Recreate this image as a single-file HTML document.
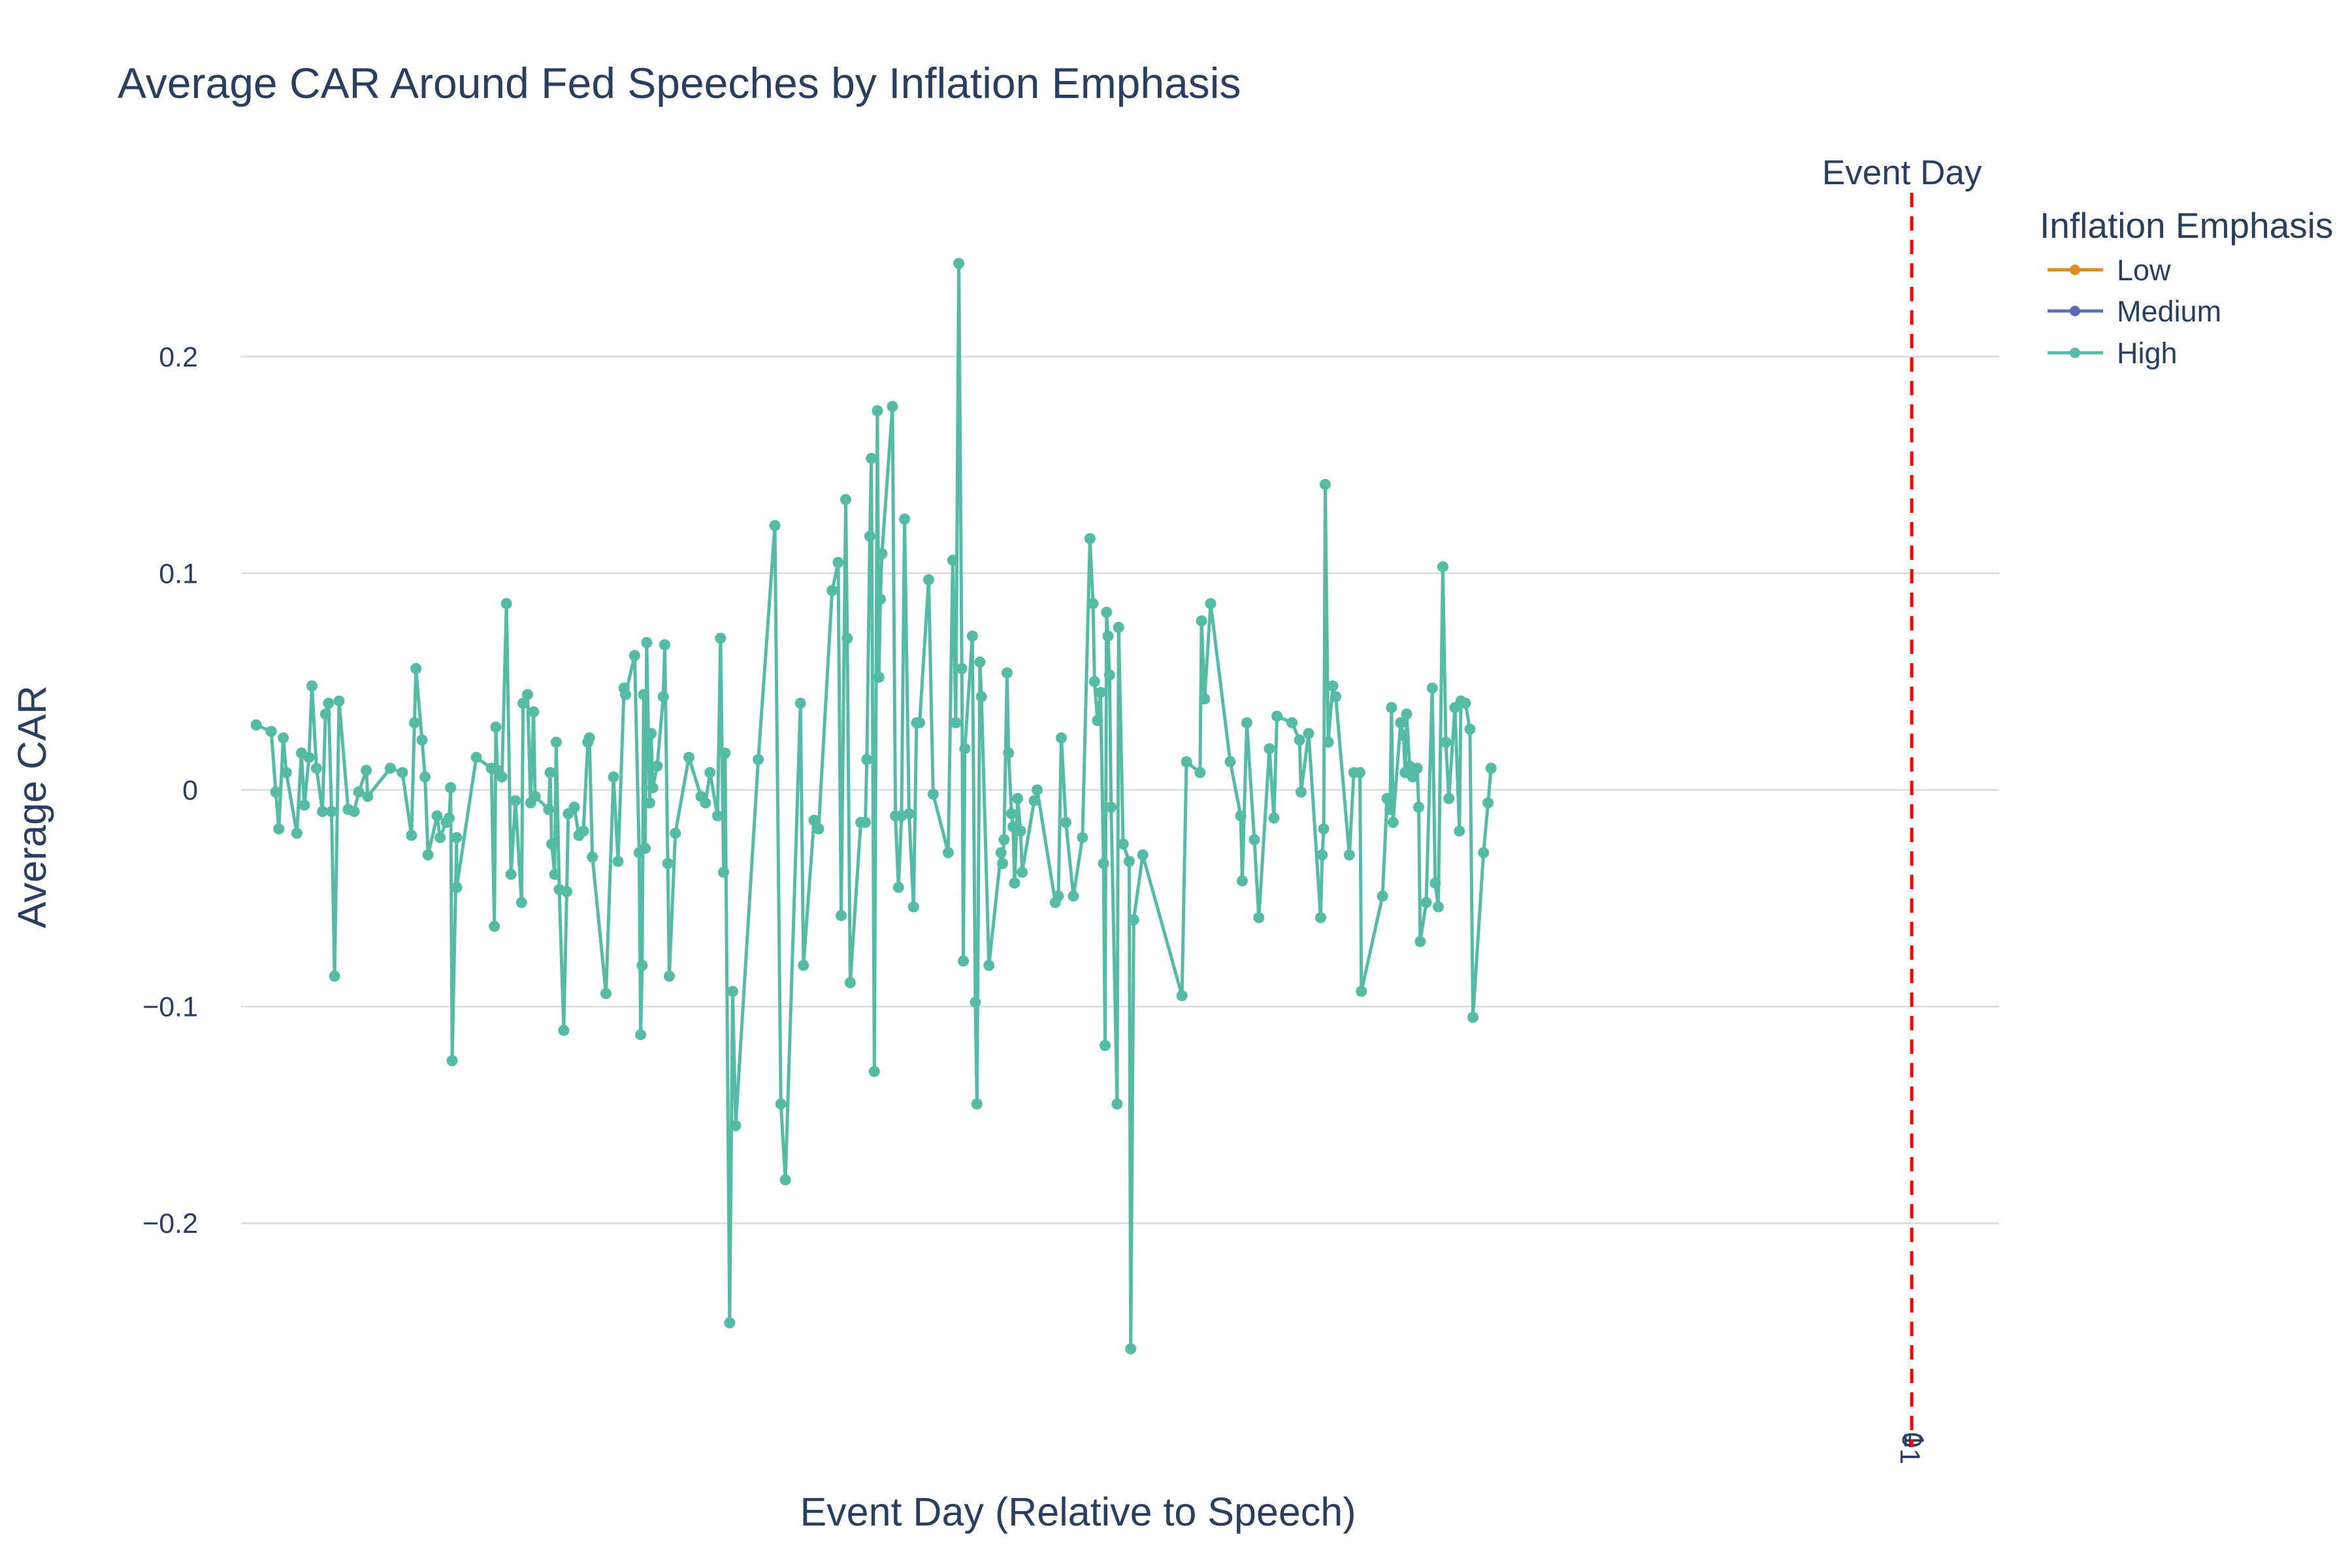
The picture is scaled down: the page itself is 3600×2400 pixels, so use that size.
<!DOCTYPE html>
<html><head><meta charset="utf-8"><style>
html,body{margin:0;padding:0;background:#fff;}
svg{display:block;font-family:"Liberation Sans",sans-serif;}
</style></head><body>
<svg id="chart" width="3600" height="2400" viewBox="0 0 3600 2400">
<rect width="3600" height="2400" fill="#fff"/>
<text x="180" y="150" font-size="66" fill="#2a3f5f">Average CAR Around Fed Speeches by Inflation Emphasis</text>
<g id="grid"></g>
<g id="yticks"></g>
<g id="xticks"></g>
<g id="series"></g>
<text x="1650" y="2335" font-size="61" fill="#2a3f5f" text-anchor="middle">Event Day (Relative to Speech)</text>
<text transform="translate(70,1235) rotate(-90)" font-size="61" fill="#2a3f5f" text-anchor="middle">Average CAR</text>
<text id="evlabel" y="282" font-size="53" fill="#2a3f5f" text-anchor="middle">Event Day</text>
<g>
<text x="3122" y="364" font-size="55" fill="#2a3f5f">Inflation Emphasis</text>
<g><line x1="3134" y1="413" x2="3219" y2="413" stroke="#e08a1e" stroke-width="5"/><circle cx="3176" cy="413" r="8" fill="#e08a1e"/><text x="3240" y="429" font-size="45" fill="#2a3f5f">Low</text></g>
<g><line x1="3134" y1="476" x2="3219" y2="476" stroke="#5b6bb5" stroke-width="5"/><circle cx="3176" cy="476" r="8" fill="#5b6bb5"/><text x="3240" y="492" font-size="45" fill="#2a3f5f">Medium</text></g>
<g><line x1="3134" y1="540" x2="3219" y2="540" stroke="#54bca4" stroke-width="5"/><circle cx="3176" cy="540" r="8" fill="#54bca4"/><text x="3240" y="556" font-size="45" fill="#2a3f5f">High</text></g>
</g>
</svg>
<script>
const yTickVals=[-0.2,-0.1,0,0.1,0.2];
const yTickLabels=["\u22120.2","\u22120.1","0","0.1","0.2"];
const xTickVals=[-0.1,0,0.1];
const xTickLabels=["\u22121","0","1"];
const eventDay=0;
const lowX=[];const lowY=[];
const medX=[];const medY=[];
const highX=[
-109.8,-108.8,-108.5,-108.3,-108.0,-107.8,-107.1,-106.8,-106.6,-106.3,
-106.1,-105.8,-105.4,-105.2,-105.0,-104.8,-104.6,-104.3,-103.7,-103.3,
-103.0,-102.5,-102.4,-100.9,-100.1,-99.5,-99.3,-99.2,-98.8,-98.6,
-98.4,-97.8,-97.6,-97.2,-97.0,-96.9,-96.8,-96.5,-96.5,-95.2,
-94.2,-94.0,-93.9,-93.8,-93.5,-93.2,-92.9,-92.6,-92.2,-92.1,
-91.8,-91.6,-91.4,-91.3,-90.4,-90.3,-90.2,-90.0,-89.9,-89.7,
-89.4,-89.2,-89.1,-88.7,-88.4,-88.1,-87.8,-87.7,-87.5,-86.6,
-86.1,-85.8,-85.4,-85.3,-84.7,-84.4,-84.3,-84.2,-84.1,-84.0,
-83.9,-83.7,-83.6,-83.5,-83.2,-82.8,-82.7,-82.5,-82.4,-82.0,
-81.1,-80.3,-80.0,-79.7,-79.2,-79.0,-78.8,-78.7,-78.4,-78.2,
-78.0,-76.5,-75.4,-75.0,-74.7,-73.7,-73.5,-72.8,-72.5,-71.6,
-71.2,-71.0,-70.7,-70.6,-70.4,-69.7,-69.4,-69.3,-69.1,-69.0,
-68.8,-68.6,-68.5,-68.4,-68.3,-67.6,-67.4,-67.2,-67.0,-66.8,
-66.5,-66.2,-66.0,-65.8,-65.2,-64.9,-63.9,-63.6,-63.4,-63.2,
-63.0,-62.9,-62.8,-62.3,-62.1,-62.0,-61.8,-61.7,-61.2,-60.4,
-60.3,-60.2,-60.0,-59.9,-59.7,-59.6,-59.5,-59.3,-59.1,-59.0,
-58.2,-58.0,-56.8,-56.6,-56.4,-56.1,-55.6,-55.0,-54.5,-54.3,
-54.2,-54.0,-53.8,-53.6,-53.5,-53.4,-53.3,-53.2,-53.1,-52.7,
-52.6,-52.3,-51.9,-51.8,-51.6,-51.0,-48.4,-48.1,-47.2,-47.1,
-46.9,-46.5,-45.2,-44.5,-44.4,-44.1,-43.6,-43.3,-42.6,-42.3,
-42.1,-41.1,-40.6,-40.5,-40.0,-39.2,-39.1,-39.0,-38.9,-38.7,
-38.4,-38.2,-37.3,-37.0,-36.6,-36.5,-35.1,-34.8,-34.6,-34.5,
-34.4,-33.9,-33.7,-33.6,-33.5,-33.3,-33.1,-32.8,-32.7,-32.6,
-32.2,-31.8,-31.6,-31.4,-31.1,-30.9,-30.7,-30.3,-30.0,-29.9,
-29.6,-29.3,-29.1,-28.4,-28.1,-27.9];
const highY=[
0.030,0.027,-0.001,-0.018,0.024,0.008,-0.020,0.017,-0.007,0.015,
0.048,0.010,-0.010,0.035,0.040,-0.010,-0.086,0.041,-0.009,-0.010,
-0.001,0.009,-0.003,0.010,0.008,-0.021,0.031,0.056,0.023,0.006,
-0.030,-0.012,-0.022,-0.015,-0.013,0.001,-0.125,-0.022,-0.045,0.015,
0.010,-0.063,0.029,0.009,0.006,0.086,-0.039,-0.005,-0.052,0.040,
0.044,-0.006,0.036,-0.003,-0.009,0.008,-0.025,-0.039,0.022,-0.046,
-0.111,-0.047,-0.011,-0.008,-0.021,-0.019,0.022,0.024,-0.031,-0.094,
0.006,-0.033,0.047,0.044,0.062,-0.029,-0.113,-0.081,0.044,-0.027,
0.068,-0.006,0.026,0.001,0.011,0.043,0.067,-0.034,-0.086,-0.020,
0.015,-0.003,-0.006,0.008,-0.012,0.070,-0.038,0.017,-0.246,-0.093,
-0.155,0.014,0.122,-0.145,-0.180,0.040,-0.081,-0.014,-0.018,0.092,
0.105,-0.058,0.134,0.070,-0.089,-0.015,-0.015,0.014,0.117,0.153,
-0.130,0.175,0.052,0.088,0.109,0.177,-0.012,-0.045,-0.012,0.125,
-0.011,-0.054,0.031,0.031,0.097,-0.002,-0.029,0.106,0.031,0.243,
0.056,-0.079,0.019,0.071,-0.098,-0.145,0.059,0.043,-0.081,-0.029,
-0.034,-0.023,0.054,0.017,-0.011,-0.017,-0.043,-0.004,-0.019,-0.038,
-0.005,0.000,-0.052,-0.049,0.024,-0.015,-0.049,-0.022,0.116,0.086,
0.050,0.032,0.045,-0.034,-0.118,0.082,0.071,0.053,-0.008,-0.145,
0.075,-0.025,-0.033,-0.258,-0.060,-0.030,-0.095,0.013,0.008,0.078,
0.042,0.086,0.013,-0.012,-0.042,0.031,-0.023,-0.059,0.019,-0.013,
0.034,0.031,0.023,-0.001,0.026,-0.059,-0.030,-0.018,0.141,0.022,
0.048,0.043,-0.030,0.008,0.008,-0.093,-0.049,-0.004,-0.009,0.038,
-0.015,0.031,0.025,0.008,0.035,0.011,0.006,0.010,-0.008,-0.070,
-0.052,0.047,-0.043,-0.054,0.103,0.022,-0.004,0.038,-0.019,0.041,
0.040,0.028,-0.105,-0.029,-0.006,0.010];

const NS="http://www.w3.org/2000/svg";
const PL=369,PR=3060,PT=277,PB=2200;
const xMin=-110.8,xMax=5.8;
function xS(v){return PL+(v-xMin)/(xMax-xMin)*(PR-PL);}
function yS(v){return 1209-v*3316;}
function mk(tag,attrs,parent){const e=document.createElementNS(NS,tag);for(const k in attrs)e.setAttribute(k,attrs[k]);parent.appendChild(e);return e;}

const grid=document.getElementById('grid'),yt=document.getElementById('yticks'),xt=document.getElementById('xticks'),ser=document.getElementById('series');
yTickVals.forEach((v,i)=>{
  const l=mk('line',{x1:PL,x2:PR,y1:yS(v),y2:yS(v),stroke:'#d9d9d9','stroke-width':2.5},grid);
  
  
  const t=mk('text',{x:PL-66,y:yS(v)+15,'font-size':43,fill:'#2a3f5f','text-anchor':'end'},yt);
  
  
  t.textContent=yTickLabels[i];
});
xTickVals.forEach((v,i)=>{
  const x=xS(eventDay)+v*30;
  const t=mk('text',{transform:`translate(${x-14},2192) rotate(90)`,'font-size':43,fill:'#2a3f5f'},xt);
  
  
  t.textContent=xTickLabels[i];
});
const ev=mk('line',{x1:xS(eventDay),x2:xS(eventDay),y1:295,y2:2215,stroke:'#ff0000','stroke-width':5,'stroke-dasharray':'22,14'},ser);


document.getElementById('evlabel').setAttribute('x',xS(eventDay)-15);

function drawSeries(xs,ys,color,name){
  if(!xs.length)return;
  const g=mk('g',{},ser);
  
  
  const d=xs.map((x,i)=>(i?'L':'M')+xS(x).toFixed(1)+','+yS(ys[i]).toFixed(1)).join('');
  const p=mk('path',{d:d,fill:'none',stroke:color,'stroke-width':5,'stroke-linejoin':'round'},g);
  
  
  xs.forEach((x,i)=>{
    const c=mk('circle',{cx:xS(x),cy:yS(ys[i]),r:8.5,fill:color},g);
    
    
  });
}
drawSeries(lowX,lowY,'#e08a1e','low');
drawSeries(medX,medY,'#5b6bb5','medium');
drawSeries(highX,highY,'#54bca4','high');
</script>
</body></html>
